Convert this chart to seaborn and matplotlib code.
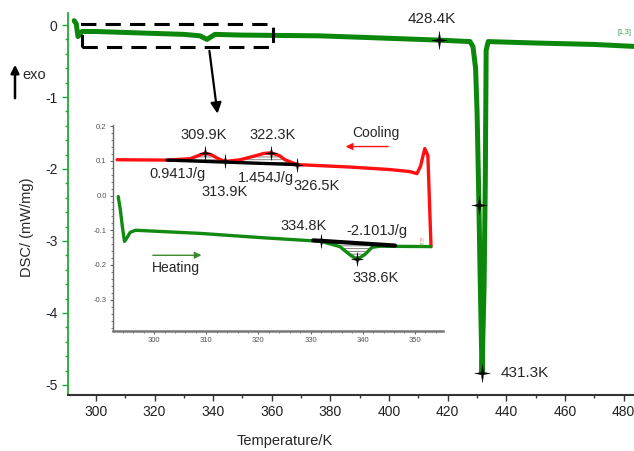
import numpy as np
import matplotlib
matplotlib.use("Agg")
import matplotlib.pyplot as plt
import seaborn as sns
from matplotlib.path import Path
from matplotlib.patches import Rectangle
from matplotlib.ticker import MultipleLocator, FormatStrFormatter

# -------------------------
# Data
# -------------------------
# main DSC curve (full heating run)
main_T = [292.6, 293.3, 293.9, 294.6, 295.3, 300, 315, 330, 335.5, 337.9, 340.6,
          350, 376, 397, 417, 427.6, 428.6, 429.5, 430.0, 430.5, 431.1, 431.7,
          432.4, 432.8, 433.0, 433.1, 433.8, 450, 470, 490]
main_dsc = [0.06, 0.02, -0.16, -0.13, -0.09, -0.09, -0.11, -0.13, -0.15, -0.20, -0.13,
            -0.14, -0.15, -0.18, -0.21, -0.23, -0.30, -0.60, -1.20, -2.20, -3.60, -4.83,
            -3.60, -2.20, -1.00, -0.35, -0.23, -0.25, -0.27, -0.31]

# main markers / labels
main_mark_T = [417.1, 430.5, 431.7]
main_mark_v = [-0.21, -2.50, -4.83]

# inset: cooling (red) and heating (green)
cool_T = [292.9, 302.5, 306.9, 308.5, 309.8, 311.0, 312.3, 313.6, 316.5, 319.3,
          321.0, 322.4, 324.0, 325.1, 327.4, 337.5, 345.0, 349.0, 350.4, 351.1,
          351.9, 352.5, 353.1]
cool_v = [0.103, 0.102, 0.106, 0.115, 0.122, 0.117, 0.106, 0.098, 0.103, 0.114,
          0.121, 0.123, 0.115, 0.103, 0.089, 0.082, 0.075, 0.069, 0.063, 0.085,
          0.135, 0.115, -0.147]
heat_T = [293.1, 293.5, 293.9, 294.3, 294.6, 295.4, 296.4, 308.8, 320.3, 332.0,
          335.6, 337.5, 338.9, 340.4, 341.8, 343.3, 353.1]
heat_v = [-0.003, -0.04, -0.09, -0.132, -0.126, -0.106, -0.100, -0.109, -0.121, -0.132,
          -0.147, -0.170, -0.184, -0.170, -0.149, -0.146, -0.147]

cool_base_T = [302.5, 327.4]
cool_base_v = [0.102, 0.089]
heat_base_T = [330.5, 346.2]
heat_base_v = [-0.129, -0.144]

inset_mark_T = [309.8, 313.6, 322.4, 327.4, 332.0, 338.9]
inset_mark_v = [0.122, 0.098, 0.123, 0.089, -0.132, -0.184]

inset_labels = ["309.9K", "322.3K", "0.941J/g", "313.9K", "1.454J/g", "326.5K",
                "334.8K", "-2.101J/g", "338.6K"]
inset_label_T = [309.4, 322.8, 304.4, 313.6, 321.5, 331.2, 328.7, 342.7, 342.5]
inset_label_v = [0.175, 0.175, 0.063, 0.009, 0.049, 0.026, -0.089, -0.103, -0.236]

# -------------------------
# Style
# -------------------------
sns.set_style("ticks")
plt.rcParams['font.family'] = ['Liberation Sans', 'DejaVu Sans']
plt.rcParams['axes.unicode_minus'] = False
plt.rcParams['hatch.linewidth'] = 0.6

# 4-point star marker used by the DSC software
star = Path([(0, 1), (0.12, 0.12), (0.85, 0), (0.12, -0.12), (0, -1),
             (-0.12, -0.12), (-0.85, 0), (-0.12, 0.12), (0, 1)],
            [Path.MOVETO] + [Path.LINETO] * 7 + [Path.CLOSEPOLY])

fig = plt.figure(figsize=(6.34, 4.51), dpi=100)

# -------------------------
# Main axes
# -------------------------
ax = fig.add_axes([68 / 634, 1 - 395 / 451, 585 / 634, 382 / 451])
sns.lineplot(x=main_T, y=main_dsc, ax=ax, color='#0b870b', lw=3.6,
             sort=False, estimator=None)
ax.plot(main_mark_T, main_mark_v, ls='none', marker=star, ms=13, color='k', mew=0.3)
ax.text(414.7, 0.09, "428.4K", fontsize=11, ha='center', va='center')
ax.text(438.0, -4.83, "431.3K", fontsize=11, ha='left', va='center')
ax.text(480.3, -0.11, "[1,3]", fontsize=5, color='#2a9a4a', ha='center', va='center')

ax.set_xlim(290.5, 490)
ax.set_ylim(-5.14, 0.167)
ax.xaxis.set_major_locator(MultipleLocator(20))
ax.xaxis.set_minor_locator(MultipleLocator(10))
ax.yaxis.set_major_locator(MultipleLocator(1))
ax.yaxis.set_minor_locator(MultipleLocator(0.2))
ax.yaxis.set_major_formatter(FormatStrFormatter('%d'))
ax.tick_params(which='major', direction='out', length=4, width=1, labelsize=10,
               labelcolor='#222222')
ax.tick_params(which='minor', direction='out', length=2, width=1)
ax.tick_params(axis='y', which='both', color='#22aa33')
ax.tick_params(axis='x', which='both', color='#333333')
ax.set_xlabel("")
ax.set_ylabel("")
for s in ['top', 'right']:
    ax.spines[s].set_visible(False)
ax.spines['left'].set_color('#22aa33')
ax.spines['left'].set_linewidth(1.3)
ax.spines['bottom'].set_color('#333333')
ax.spines['bottom'].set_linewidth(1.5)

# dashed zoom box and arrow to inset
ax.add_patch(Rectangle((295.2, -0.31), 65.2, 0.324, fill=False, ls=(0, (5, 3)),
                       lw=2.2, ec='k', zorder=5))
ax.annotate('', xy=(341.6, -1.27), xytext=(338.6, -0.32),
            arrowprops=dict(arrowstyle='-|>', color='k', lw=1.6, mutation_scale=16))

# exo arrow and axis labels
ax.annotate('', xy=(15 / 634, 1 - 62 / 451), xytext=(15 / 634, 1 - 101 / 451),
            xycoords='figure fraction', textcoords='figure fraction',
            arrowprops=dict(arrowstyle='-|>', color='k', lw=1.8, mutation_scale=12))
fig.text(22 / 634, 1 - 75 / 451, "exo", fontsize=10.5, ha='left', va='center')
fig.text(27 / 634, 1 - 227 / 451, "DSC/ (mW/mg)", fontsize=10.5, rotation=90,
         ha='center', va='center')
fig.text(285 / 634, 1 - 441 / 451, "Temperature/K", fontsize=10.5, ha='center', va='center')

# -------------------------
# Inset axes
# -------------------------
axin = fig.add_axes([113 / 634, 1 - 331 / 451, 330 / 634, 206 / 451])
axin.set_facecolor('none')
sns.lineplot(x=cool_T, y=cool_v, ax=axin, color='#ff1010', lw=2.4, sort=False, estimator=None)
sns.lineplot(x=heat_T, y=heat_v, ax=axin, color='#128a12', lw=2.4, sort=False, estimator=None)

# integration baselines + hatched areas
axin.plot(cool_base_T, cool_base_v, color='k', lw=2.4)
axin.plot(heat_base_T, heat_base_v, color='k', lw=3.0)
cT = np.array(cool_T)
cv = np.array(cool_v)
sel = (cT >= cool_base_T[0]) & (cT <= cool_base_T[1])
axin.fill_between(cT[sel], cv[sel], np.interp(cT[sel], cool_base_T, cool_base_v),
                  facecolor='none', edgecolor='0.45', hatch='------', lw=0)
hT = np.array(heat_T)
hv = np.array(heat_v)
sel = (hT >= 332.0) & (hT <= 343.3)
axin.fill_between(hT[sel], hv[sel], np.interp(hT[sel], heat_base_T, heat_base_v),
                  facecolor='none', edgecolor='0.45', hatch='------', lw=0)

axin.plot(inset_mark_T, inset_mark_v, ls='none', marker=star, ms=10, color='k', mew=0.3)
for lab, x, y in zip(inset_labels, inset_label_T, inset_label_v):
    axin.text(x, y, lab, fontsize=10.5, ha='center', va='center')

axin.text(342.5, 0.181, "Cooling", fontsize=10, ha='center', va='center')
axin.annotate('', xy=(336.2, 0.141), xytext=(345.4, 0.141),
              arrowprops=dict(arrowstyle='-|>', color='#ff1010', lw=1.0, mutation_scale=10))
axin.text(304.2, -0.21, "Heating", fontsize=10, ha='center', va='center')
axin.annotate('', xy=(309.6, -0.172), xytext=(299.2, -0.172),
              arrowprops=dict(arrowstyle='-|>', color='#3a8a2a', lw=1.0, mutation_scale=10))
axin.text(351.3, -0.128, "[2]", fontsize=3, color='#ff6060', ha='center', va='center')
axin.text(351.3, -0.141, "[1]", fontsize=3, color='#3a9a3a', ha='center', va='center')

axin.set_xlim(292.1, 355.4)
axin.set_ylim(-0.39, 0.203)
axin.xaxis.set_major_locator(MultipleLocator(10))
axin.xaxis.set_minor_locator(MultipleLocator(2))
axin.yaxis.set_major_locator(MultipleLocator(0.1))
axin.yaxis.set_minor_locator(MultipleLocator(0.02))
axin.yaxis.set_major_formatter(FormatStrFormatter('%.1f'))
axin.tick_params(which='major', direction='out', length=2.5, width=0.8, labelsize=5.5,
                 labelcolor='#555555', color='#666666', pad=2)
axin.tick_params(which='minor', direction='out', length=1.2, width=0.6, color='#666666')
axin.set_xlabel("")
axin.set_ylabel("")
for s in ['top', 'right']:
    axin.spines[s].set_visible(False)
axin.spines['left'].set_color('#666666')
axin.spines['left'].set_linewidth(1.0)
axin.spines['bottom'].set_color('#777777')
axin.spines['bottom'].set_linewidth(1.8)

fig.savefig("out.png", dpi=100)
